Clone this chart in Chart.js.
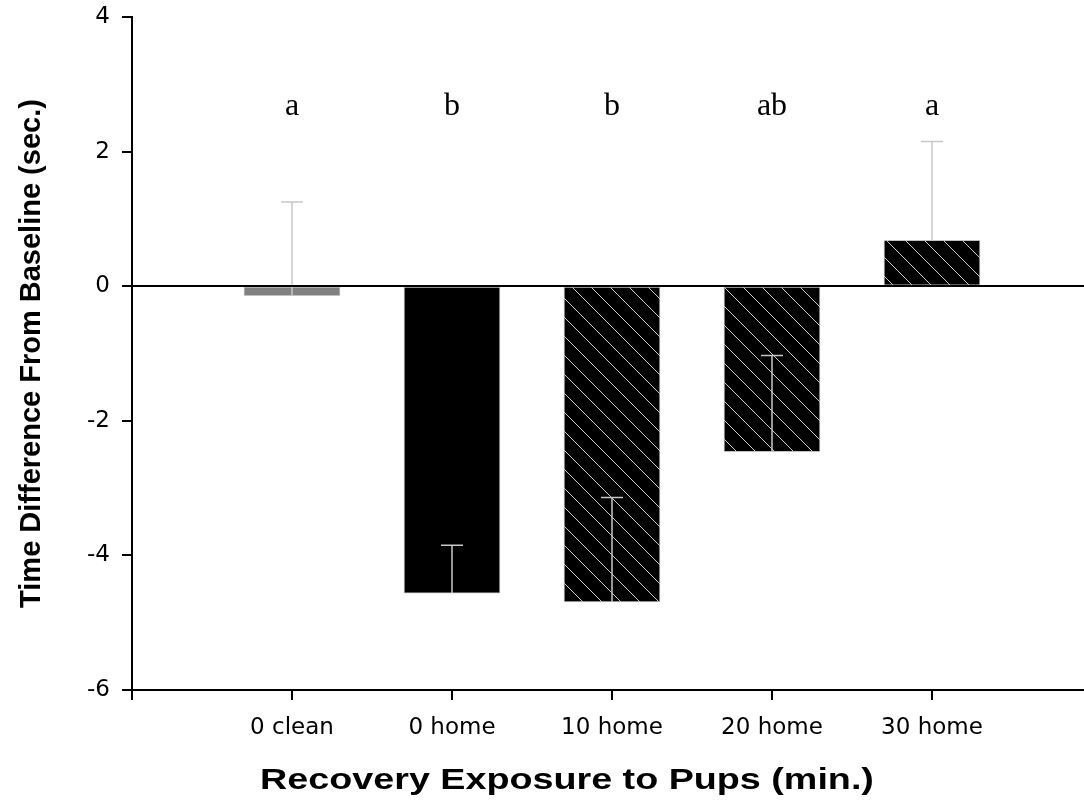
<!DOCTYPE html>
<html>
<head>
<meta charset="utf-8">
<script src="https://cdn.jsdelivr.net/npm/chart.js@4/dist/chart.umd.min.js"></script>
<style>
  body { margin: 0; background: #fff; }
  canvas { display: block; }
</style>
</head>
<body>
<canvas id="chart" width="1084" height="805"></canvas>
<script>
const categories = ['0 clean', '0 home', '10 home', '20 home', '30 home'];
const means = [-0.14, -4.56, -4.69, -2.46, 0.68];
const errors = [1.39, 0.71, 1.55, 1.43, 1.47]; // upward SE bars
const groupLetters = ['a', 'b', 'b', 'ab', 'a'];
const letterLevel = 2.55;
const yTicks = [-6, -4, -2, 0, 2, 4];

const xTitle = 'Recovery Exposure to Pups (min.)';
const yTitle = 'Time Difference From Baseline (sec.)';

const canvas = document.getElementById('chart');
const ctx = canvas.getContext('2d');

// black bar with light diagonal lines
function makeHatch() {
    const s = 19;
    const tile = document.createElement('canvas');
    tile.width = s; tile.height = s;
    const g = tile.getContext('2d');
    g.fillStyle = '#000';
    g.fillRect(0, 0, s, s);
    g.strokeStyle = '#c8c8c8';
    g.lineWidth = 1;
    for (const k of [-s, 0, s]) {
        g.beginPath();
        g.moveTo(k, 0);
        g.lineTo(k + s, s);
        g.stroke();
    }
    return ctx.createPattern(tile, 'repeat');
}
const hatch = makeHatch();
const fills = ['#808080', '#000000', hatch, hatch, hatch];

const tickFont = { family: 'DejaVu Sans', size: 23 };

const extras = {
    id: 'extras',
    afterDatasetsDraw(chart) {
        const { ctx, scales: { x, y } } = chart;
        ctx.save();
        // error bars
        ctx.strokeStyle = '#c8c8c8';
        ctx.lineWidth = 1.5;
        means.forEach((m, i) => {
            const px = x.getPixelForValue(i + 1);
            const y0 = y.getPixelForValue(m);
            const y1 = y.getPixelForValue(m + errors[i]);
            ctx.beginPath();
            ctx.moveTo(px, y0);
            ctx.lineTo(px, y1);
            ctx.moveTo(px - 11, y1);
            ctx.lineTo(px + 11, y1);
            ctx.stroke();
        });
        // significance letters
        ctx.fillStyle = '#000';
        ctx.font = '32px "Liberation Serif"';
        ctx.textAlign = 'center';
        ctx.textBaseline = 'alphabetic';
        groupLetters.forEach((t, i) => {
            ctx.fillText(t, x.getPixelForValue(i + 1), y.getPixelForValue(letterLevel));
        });
        // x axis title (wide lettering, sits left of plot centre)
        ctx.font = 'bold 29px "Liberation Sans"';
        ctx.translate(567, 789);
        ctx.scale(1.3, 1);
        ctx.fillText(xTitle, 0, 0);
        ctx.restore();
    }
};

new Chart(ctx, {
    type: 'bar',
    data: {
        datasets: [{
            data: means.map((v, i) => ({ x: i + 1, y: v })),
            backgroundColor: fills,
            borderColor: '#c0c0c0',
            borderWidth: 1,
            borderSkipped: false,
            barThickness: 96
        }]
    },
    options: {
        responsive: false,
        animation: false,
        layout: { padding: { top: 17, right: 0, bottom: 0, left: 0 } },
        plugins: {
            legend: { display: false },
            tooltip: { enabled: false }
        },
        scales: {
            x: {
                type: 'linear',
                min: 0,
                max: 5.95,
                offset: false,
                afterFit: s => { s.height = 115; },
                grid: { offset: false, drawOnChartArea: false, color: '#000', tickColor: '#000', lineWidth: 2, tickLength: 10 },
                border: { color: '#000', width: 2 },
                ticks: {
                    stepSize: 1,
                    includeBounds: false,
                    autoSkip: false,
                    maxRotation: 0,
                    padding: 14,
                    color: '#000',
                    font: tickFont,
                    callback: v => categories[v - 1] || ''
                }
            },
            y: {
                min: -6,
                max: 4,
                afterFit: s => { s.width = 132; s.paddingTop = 0; s.paddingBottom = 0; },
                afterBuildTicks: s => { s.ticks = yTicks.map(v => ({ value: v })); },
                grid: {
                    z: 1,
                    color: c => (c.tick && c.tick.value === 0 ? '#000' : 'rgba(0,0,0,0)'),
                    tickColor: '#000',
                    lineWidth: 2,
                    tickLength: 10
                },
                border: { z: 1, color: '#000', width: 2 },
                ticks: { padding: 12, color: '#000', font: { family: 'DejaVu Sans', size: 23, lineHeight: 0.6 } },
                title: {
                    display: true,
                    text: yTitle,
                    color: '#000',
                    font: { family: 'Liberation Sans', size: 29, weight: 'bold' },
                    padding: { top: 15, bottom: 0 }
                }
            }
        }
    },
    plugins: [extras]
});
</script>
</body>
</html>
